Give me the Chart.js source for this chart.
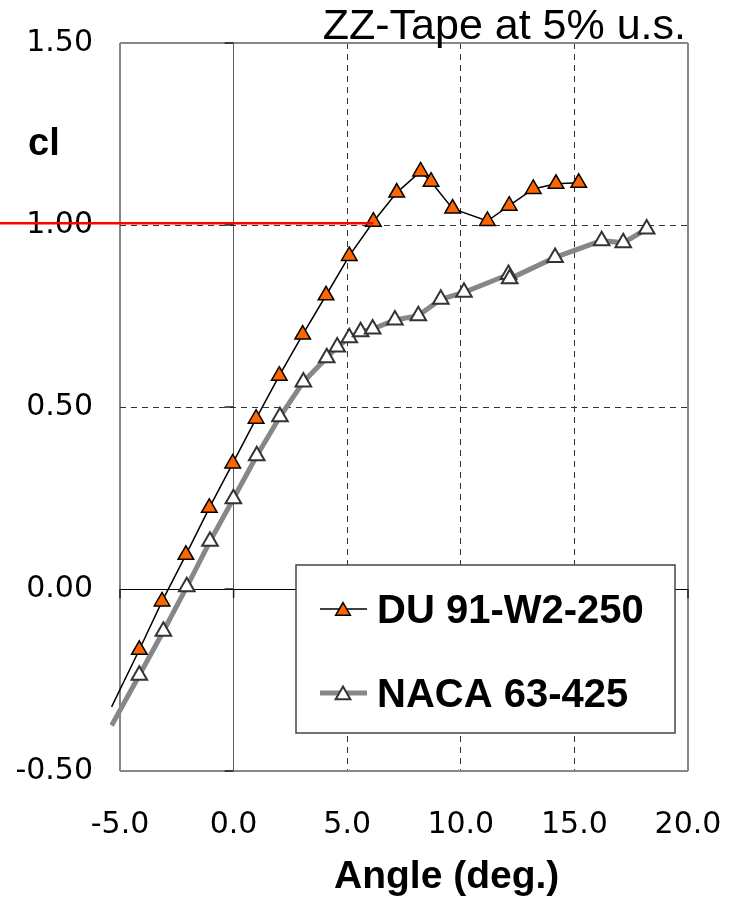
<!DOCTYPE html>
<html>
<head>
<meta charset="utf-8">
<script src="https://cdn.jsdelivr.net/npm/chart.js@4.4.1/dist/chart.umd.min.js"></script>
<style>
  html, body { margin: 0; padding: 0; background: #fff; overflow: hidden; }
  canvas { display: block; }
</style>
</head>
<body>
<canvas id="clChart" width="735" height="901"></canvas>
<script>
// axis ticks
const xTicks = [-5, 0, 5, 10, 15, 20];
const yTicks = [-0.5, 0, 0.5, 1.0, 1.5];

// lift coefficient vs angle of attack
// (first pair of each series only carries the curve past the left frame, no marker)
const duLabel = 'DU 91-W2-250';
const duAngle = [-5.37, -4.15, -3.15, -2.10, -1.07, -0.04, 0.99, 2.01, 3.04, 4.07, 5.09,
                 6.15, 7.18, 8.23, 8.69, 9.64, 11.17, 12.13, 13.19, 14.19, 15.19];
const duCl    = [-0.324, -0.167, -0.034, 0.094, 0.223, 0.345, 0.468, 0.586, 0.699, 0.807, 0.915,
                 1.009, 1.089, 1.147, 1.119, 1.045, 1.011, 1.053, 1.099, 1.113, 1.116];

const nacaLabel = 'NACA 63-425';
const nacaAngle = [-5.37, -4.15, -3.09, -2.06, -1.04, -0.01, 1.02, 2.04, 3.07, 4.10, 4.56, 5.09,
                   5.59, 6.12, 7.10, 8.13, 9.12, 10.14, 12.10, 12.15, 14.15, 16.20, 17.15, 18.18];
const nacaCl    = [-0.375, -0.237, -0.116, 0.006, 0.131, 0.248, 0.366, 0.473, 0.569, 0.635, 0.665, 0.690,
                   0.707, 0.714, 0.739, 0.751, 0.796, 0.815, 0.864, 0.852, 0.911, 0.957, 0.951, 0.989];

// red cl = 1 marker line, runs in from the left edge
const refCl = 1.005;
const refEndAngle = 6.15;

const FONT = '"Liberation Sans", Arial, Helvetica, sans-serif';
const TICK_FONT = '"DejaVu Sans", Verdana, sans-serif';
const ORANGE = '#ff6600';

function toXY(xs, ys) {
  return xs.map((x, i) => ({ x: x, y: ys[i] }));
}

function triangle(ctx, x, y, r) {
  ctx.beginPath();
  ctx.moveTo(x, y - r);
  ctx.lineTo(x + Math.sin(Math.PI * 2 / 3) * r, y + r / 2);
  ctx.lineTo(x - Math.sin(Math.PI * 2 / 3) * r, y + r / 2);
  ctx.closePath();
}

// grid styling: frame on the outer ticks, solid line at zero, dashes elsewhere
function gridColor(ticks, zeroColor) {
  return c => {
    const v = c.tick.value;
    if (v === ticks[0] || v === ticks[ticks.length - 1]) return '#868686';
    if (v === 0) return zeroColor;
    return '#333';
  };
}
function gridWidth(ticks) {
  return c => {
    const v = c.tick.value;
    if (v === ticks[0] || v === ticks[ticks.length - 1]) return 2;
    return 1;
  };
}
function gridDash(ticks) {
  return c => {
    if (!c.tick) return [];
    const v = c.tick.value;
    if (v === ticks[0] || v === ticks[ticks.length - 1] || v === 0) return [];
    return [6, 5];
  };
}

const decor = {
  id: 'decor',
  afterDatasetsDraw(chart) {
    const ctx = chart.ctx;
    const xs = chart.scales.x, ys = chart.scales.y;

    // reference line
    ctx.save();
    ctx.strokeStyle = '#ff0000';
    ctx.lineWidth = 2.5;
    ctx.beginPath();
    ctx.moveTo(0, ys.getPixelForValue(refCl));
    ctx.lineTo(xs.getPixelForValue(refEndAngle), ys.getPixelForValue(refCl));
    ctx.stroke();
    ctx.restore();

    // small tick marks on the zero axes
    const x0 = xs.getPixelForValue(0), y0 = ys.getPixelForValue(0);
    ctx.save();
    ctx.strokeStyle = '#222';
    ctx.lineWidth = 1.5;
    ctx.beginPath();
    yTicks.forEach(v => {
      const y = ys.getPixelForValue(v);
      ctx.moveTo(x0 - 9, y);
      ctx.lineTo(x0, y);
    });
    xTicks.forEach(v => {
      const x = xs.getPixelForValue(v);
      ctx.moveTo(x, y0);
      ctx.lineTo(x, y0 + 9);
    });
    ctx.stroke();
    ctx.restore();

    // legend box
    const bx = 296, by = 565, bw = 379, bh = 168;
    ctx.save();
    ctx.fillStyle = '#fff';
    ctx.fillRect(bx, by, bw, bh);
    ctx.strokeStyle = '#444';
    ctx.lineWidth = 1.5;
    ctx.strokeRect(bx, by, bw, bh);

    const rows = [
      { ds: chart.data.datasets[0], y: 609 },
      { ds: chart.data.datasets[1], y: 693 }
    ];
    rows.forEach(row => {
      const ds = row.ds;
      ctx.strokeStyle = ds.borderColor;
      ctx.lineWidth = ds.borderWidth;
      ctx.beginPath();
      ctx.moveTo(320, row.y);
      ctx.lineTo(367, row.y);
      ctx.stroke();
      triangle(ctx, 343, row.y + 2, 8.5);
      ctx.fillStyle = ds.pointBackgroundColor;
      ctx.fill();
      ctx.strokeStyle = ds.pointBorderColor;
      ctx.lineWidth = ds.pointBorderWidth;
      ctx.stroke();
      ctx.fillStyle = '#000';
      ctx.font = 'bold 40px ' + FONT;
      ctx.textBaseline = 'alphabetic';
      ctx.fillText(ds.label, 377, row.y + 14);
    });
    ctx.restore();
  },
  afterDraw(chart) {
    const ctx = chart.ctx;
    ctx.save();
    ctx.fillStyle = '#000';
    ctx.textBaseline = 'alphabetic';

    ctx.font = '43px ' + FONT;
    ctx.textAlign = 'right';
    ctx.fillText('ZZ-Tape at 5% u.s.', 686, 39);

    ctx.font = 'bold 38px ' + FONT;
    ctx.textAlign = 'left';
    ctx.fillText('cl', 28, 155);

    ctx.font = 'bold 39px ' + FONT;
    ctx.fillText('Angle (deg.)', 334, 888);
    ctx.restore();
  }
};

new Chart(document.getElementById('clChart'), {
  type: 'scatter',
  data: {
    datasets: [
      {
        label: duLabel,
        data: toXY(duAngle, duCl),
        showLine: true,
        borderColor: '#000',
        borderWidth: 1.5,
        pointStyle: 'triangle',
        pointRadius: c => (c.dataIndex === 0 ? 0 : 9),
        pointBackgroundColor: ORANGE,
        pointBorderColor: '#000',
        pointBorderWidth: 1.5,
        clip: { left: 10, top: 0, right: 0, bottom: 0 }
      },
      {
        label: nacaLabel,
        data: toXY(nacaAngle, nacaCl),
        showLine: true,
        borderColor: '#878787',
        borderWidth: 5,
        pointStyle: 'triangle',
        pointRadius: c => (c.dataIndex === 0 ? 0 : 9),
        pointBackgroundColor: '#fff',
        pointBorderColor: '#333',
        pointBorderWidth: 2,
        clip: { left: 10, top: 0, right: 0, bottom: 0 }
      }
    ]
  },
  options: {
    responsive: false,
    animation: false,
    events: [],
    layout: { padding: { top: 43, right: 47, bottom: 0, left: 0 } },
    scales: {
      x: {
        type: 'linear',
        min: -5,
        max: 20,
        afterBuildTicks: s => { s.ticks = xTicks.map(v => ({ value: v })); },
        afterFit: s => {
          s.height = 130;
          s.paddingLeft = 0;
          s.paddingRight = 0;
        },
        ticks: {
          color: '#000',
          padding: 36,
          maxRotation: 0,
          font: { family: TICK_FONT, size: 30 },
          callback: v => v.toFixed(1)
        },
        grid: {
          drawTicks: false,
          color: gridColor(xTicks, '#5a5a5a'),
          lineWidth: gridWidth(xTicks)
        },
        border: { display: false, dash: gridDash(xTicks) }
      },
      y: {
        type: 'linear',
        min: -0.5,
        max: 1.5,
        afterBuildTicks: s => { s.ticks = yTicks.map(v => ({ value: v })); },
        afterFit: s => {
          s.width = 120;
          s.paddingTop = 0;
          s.paddingBottom = 0;
        },
        ticks: {
          color: '#000',
          padding: 27,
          font: { family: TICK_FONT, size: 30 },
          callback: v => v.toFixed(2)
        },
        grid: {
          drawTicks: false,
          color: gridColor(yTicks, '#000'),
          lineWidth: gridWidth(yTicks)
        },
        border: { display: false, dash: gridDash(yTicks) }
      }
    },
    plugins: {
      legend: { display: false },
      tooltip: { enabled: false }
    }
  },
  plugins: [decor]
});
</script>
</body>
</html>
